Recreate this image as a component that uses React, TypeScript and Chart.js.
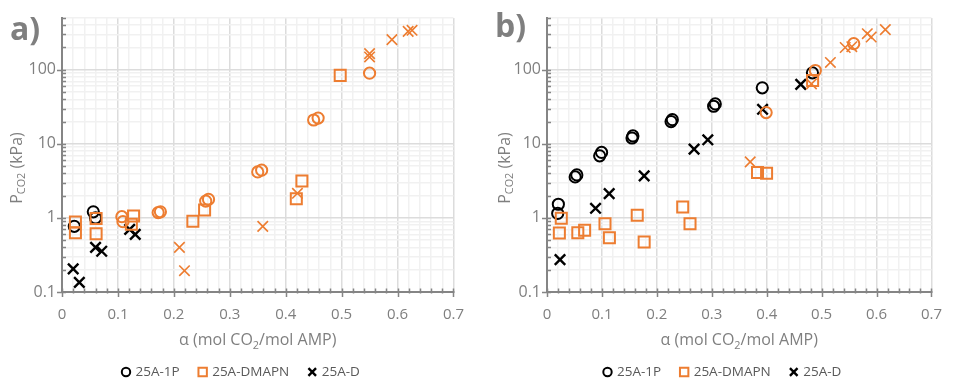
import React, { useEffect, useRef } from 'react';
import { Chart, registerables } from 'chart.js';

Chart.register(...registerables);

// ---------------- data: panel a ----------------
const a1PBlackX = [0.022, 0.056, 0.060];
const a1PBlackY = [0.77, 1.21, 1.0];
const a1POrangeX = [0.107, 0.109, 0.172, 0.176, 0.257, 0.262, 0.350, 0.357, 0.450, 0.458, 0.550];
const a1POrangeY = [1.04, 0.89, 1.18, 1.21, 1.69, 1.78, 4.18, 4.41, 21.0, 22.3, 90];
const aDmapnX = [0.024, 0.024, 0.061, 0.061, 0.128, 0.124, 0.234, 0.255, 0.419, 0.429, 0.4975];
const aDmapnY = [0.88, 0.63, 0.98, 0.61, 1.06, 0.82, 0.90, 1.28, 1.82, 3.16, 84];
const aDBlackX = [0.020, 0.031, 0.060, 0.071, 0.121, 0.131];
const aDBlackY = [0.205, 0.135, 0.40, 0.355, 0.70, 0.60];
const aDOrangeX = [0.210, 0.219, 0.359, 0.421, 0.550, 0.550, 0.590, 0.619, 0.626];
const aDOrangeY = [0.40, 0.194, 0.77, 2.15, 165, 149, 255, 330, 341];

// ---------------- data: panel b ----------------
const b1PBlackX = [0.0207, 0.0195, 0.0513, 0.0543, 0.0959, 0.0994, 0.1548, 0.1564, 0.2259, 0.2282, 0.3034, 0.3064, 0.392, 0.4833];
const b1PBlackY = [1.53, 1.15, 3.58, 3.81, 6.89, 7.66, 12.0, 12.8, 20.0, 21.2, 32.2, 34.6, 57.0, 91.0];
const b1POrangeX = [0.399, 0.4886, 0.5585];
const b1POrangeY = [26.4, 97.8, 225];
const bDmapnX = [0.026, 0.0225, 0.0561, 0.0685, 0.1056, 0.1136, 0.1643, 0.1769, 0.2471, 0.2604, 0.3833, 0.3998, 0.4836];
const bDmapnY = [0.99, 0.627, 0.63, 0.684, 0.835, 0.54, 1.09, 0.473, 1.40, 0.835, 4.10, 4.01, 71.6];
const bDBlackX = [0.0237, 0.0884, 0.1132, 0.1769, 0.2678, 0.2928, 0.3925, 0.462];
const bDBlackY = [0.274, 1.35, 2.13, 3.69, 8.49, 11.35, 29.3, 63.6];
const bDOrangeX = [0.370, 0.4815, 0.516, 0.543, 0.555, 0.5832, 0.5903, 0.616];
const bDOrangeY = [5.71, 64.6, 125.6, 200, 205, 307, 277, 348];

// ---------------- axes / labels ----------------
const seriesNames = ['25A-1P', '25A-DMAPN', '25A-D'];
const xMin = 0;
const xMax = 0.7;
const xMajorTicks = [0, 0.1, 0.2, 0.3, 0.4, 0.5, 0.6, 0.7];
const xTickLabels = ['0', '0.1', '0.2', '0.3', '0.4', '0.5', '0.6', '0.7'];
const xMinorStep = 0.02;
const yMin = 0.1;
const yMax = 500;
const yDecades = [0.1, 1, 10, 100];
const yTickLabels = ['0.1', '1', '10', '100'];

const ORANGE = '#ED7D31';
const BLACK = '#000000';
const GREY_TEXT = '#7f7f7f';
const LEGEND_TEXT = '#595959';
const AXIS = '#858585';
const GRID_MAJOR = '#dcdcdc';
const GRID_MINOR = '#f1f1f1';
const FONT = '"Open Sans", "Noto Sans", sans-serif';

type PanelCfg = {
  label: string;
  labelX: number;
  labelY: number;
  yTitleX: number;
  yAxisWidth: number;
  padRight: number;
  datasets: any[];
};

function series(label: string, xs: number[], ys: number[], style: string, color: string, width: number, radius: number) {
  return {
    label,
    data: xs.map((x, i) => ({ x, y: ys[i] })),
    pointStyle: style,
    pointRadius: radius,
    pointHoverRadius: radius,
    pointBorderWidth: width,
    pointHoverBorderWidth: width,
    pointBorderColor: color,
    pointBackgroundColor: 'rgba(0,0,0,0)',
    borderColor: color,
    backgroundColor: 'rgba(0,0,0,0)',
    showLine: false,
  };
}

const R_CIRCLE = 5.6;
const R_RECT = 7.8;
const R_CROSS = 7.4;

const panelA: PanelCfg = {
  label: 'a)',
  labelX: 10,
  labelY: 39.5,
  yTitleX: 21.7,
  yAxisWidth: 62,
  padRight: 19,
  datasets: [
    series(seriesNames[1], aDmapnX, aDmapnY, 'rect', ORANGE, 2, R_RECT),
    series(seriesNames[0], a1POrangeX, a1POrangeY, 'circle', ORANGE, 2, R_CIRCLE),
    series(seriesNames[2], aDOrangeX, aDOrangeY, 'crossRot', ORANGE, 1.6, R_CROSS),
    series(seriesNames[0], a1PBlackX, a1PBlackY, 'circle', BLACK, 2, R_CIRCLE),
    series(seriesNames[2], aDBlackX, aDBlackY, 'crossRot', BLACK, 2.4, R_CROSS),
  ],
};

const panelB: PanelCfg = {
  label: 'b)',
  labelX: 17,
  labelY: 36.7,
  yTitleX: 31.7,
  yAxisWidth: 69,
  padRight: 13,
  datasets: [
    series(seriesNames[1], bDmapnX, bDmapnY, 'rect', ORANGE, 2, R_RECT),
    series(seriesNames[0], b1POrangeX, b1POrangeY, 'circle', ORANGE, 2, R_CIRCLE),
    series(seriesNames[2], bDOrangeX, bDOrangeY, 'crossRot', ORANGE, 1.6, R_CROSS),
    series(seriesNames[0], b1PBlackX, b1PBlackY, 'circle', BLACK, 2, R_CIRCLE),
    series(seriesNames[2], bDBlackX, bDBlackY, 'crossRot', BLACK, 2.4, R_CROSS),
  ],
};

const isXMajor = (v: number) => Math.abs(v * 10 - Math.round(v * 10)) < 1e-6;
const isDecade = (v: number) => {
  const l = Math.log10(v);
  return Math.abs(l - Math.round(l)) < 1e-9;
};

function xTickValues(): number[] {
  const n = Math.round((xMax - xMin) / xMinorStep);
  const out: number[] = [];
  for (let i = 0; i <= n; i++) out.push(Math.round((xMin + i * xMinorStep) * 1000) / 1000);
  return out;
}

function yTickValues(): number[] {
  const out: number[] = [];
  for (const d of yDecades) {
    for (let k = 1; k <= 9; k++) {
      const v = Math.round(d * k * 1000) / 1000;
      if (v <= yMax + 1e-9) out.push(v);
    }
  }
  return out;
}

function xLabel(v: number): string {
  const i = xMajorTicks.findIndex((t) => Math.abs(t - v) < 1e-6);
  return i >= 0 ? xTickLabels[i] : '';
}
function yLabel(v: number): string {
  const i = yDecades.findIndex((t) => Math.abs(t - v) < 1e-9 * Math.max(1, t));
  return i >= 0 ? yTickLabels[i] : '';
}

// draw text with subscript parts, centered at cx, baseline y
function drawParts(ctx: CanvasRenderingContext2D, parts: [string, boolean][], cx: number, y: number, size: number) {
  const subSize = size * 0.68;
  const widths = parts.map(([t, sub]) => {
    ctx.font = `${sub ? subSize : size}px ${FONT}`;
    return ctx.measureText(t).width;
  });
  const total = widths.reduce((a, b) => a + b, 0);
  let x = cx - total / 2;
  ctx.textAlign = 'left';
  ctx.textBaseline = 'alphabetic';
  parts.forEach(([t, sub], i) => {
    ctx.font = `${sub ? subSize : size}px ${FONT}`;
    ctx.fillText(t, x, sub ? y + size * 0.22 : y);
    x += widths[i];
  });
}

function drawMarker(ctx: CanvasRenderingContext2D, style: string, x: number, y: number, color: string, lw: number, r: number) {
  ctx.save();
  ctx.strokeStyle = color;
  ctx.lineWidth = lw;
  ctx.beginPath();
  if (style === 'circle') {
    ctx.arc(x, y, r, 0, Math.PI * 2);
  } else if (style === 'rect') {
    ctx.rect(x - r, y - r, 2 * r, 2 * r);
  } else {
    ctx.moveTo(x - r, y - r);
    ctx.lineTo(x + r, y + r);
    ctx.moveTo(x + r, y - r);
    ctx.lineTo(x - r, y + r);
  }
  ctx.stroke();
  ctx.restore();
}

function buildChart(canvas: HTMLCanvasElement, p: PanelCfg): Chart {
  const ticksPlugin = {
    id: 'axisTicks',
    beforeDatasetsDraw(chart: any) {
      const { ctx, chartArea } = chart;
      const xs = chart.scales.x;
      const ys = chart.scales.y;
      ctx.save();
      ctx.strokeStyle = AXIS;
      ctx.lineWidth = 1.5;
      ctx.beginPath();
      for (const t of xs.ticks) {
        const px = Math.round(xs.getPixelForValue(t.value)) + 0.5;
        const major = isXMajor(t.value);
        ctx.moveTo(px, chartArea.bottom - 3.5);
        ctx.lineTo(px, chartArea.bottom + (major ? 5 : 1.5));
      }
      for (const t of ys.ticks) {
        const py = Math.round(ys.getPixelForValue(t.value)) + 0.5;
        const major = isDecade(t.value);
        ctx.moveTo(chartArea.left - (major ? 5 : 0), py);
        ctx.lineTo(chartArea.left + 4, py);
      }
      ctx.stroke();
      ctx.restore();
    },
  };

  const textPlugin = {
    id: 'panelTexts',
    afterDraw(chart: any) {
      const { ctx, chartArea } = chart;
      ctx.save();
      // panel letter
      ctx.fillStyle = GREY_TEXT;
      ctx.font = `bold 32px ${FONT}`;
      ctx.textAlign = 'left';
      ctx.textBaseline = 'alphabetic';
      ctx.fillText(p.label, p.labelX, p.labelY);
      // x title
      const cx = (chartArea.left + chartArea.right) / 2;
      drawParts(ctx, [['α (mol CO', false], ['2', true], ['/mol AMP)', false]], cx, 345, 16);
      // y title
      ctx.save();
      ctx.translate(p.yTitleX, 168);
      ctx.rotate(-Math.PI / 2);
      drawParts(ctx, [['P', false], ['CO2', true], [' (kPa)', false]], 0, 0, 16);
      ctx.restore();
      // legend
      const items = [
        { text: seriesNames[0], style: 'circle', color: BLACK, lw: 2, r: 4.2 },
        { text: seriesNames[1], style: 'rect', color: ORANGE, lw: 2, r: 4.2 },
        { text: seriesNames[2], style: 'cross', color: BLACK, lw: 2.4, r: 3.8 },
      ];
      const fontSize = 13.5;
      ctx.font = `${fontSize}px ${FONT}`;
      const markerHalf = 5;
      const textGap = 9.5;
      const itemGap = 23;
      const widths = items.map((it) => ctx.measureText(it.text).width);
      let total = 0;
      items.forEach((_, i) => {
        total += markerHalf + textGap + widths[i];
        if (i < items.length - 1) total += itemGap - markerHalf;
      });
      const ly = 372;
      let x = cx - 17.3 - total / 2 + markerHalf;
      items.forEach((it, i) => {
        drawMarker(ctx, it.style, x, ly, it.color, it.lw, it.r);
        ctx.fillStyle = LEGEND_TEXT;
        ctx.font = `${fontSize}px ${FONT}`;
        ctx.textAlign = 'left';
        ctx.textBaseline = 'middle';
        ctx.fillText(it.text, x + textGap, ly + 0.5);
        x += textGap + widths[i] + itemGap;
      });
      ctx.restore();
    },
  };

  const xt = xTickValues();
  const yt = yTickValues();

  return new Chart(canvas, {
    type: 'scatter',
    data: { datasets: p.datasets },
    options: {
      animation: false,
      responsive: false,
      devicePixelRatio: 1,
      layout: { padding: { top: 18, right: p.padRight, left: 0, bottom: 0 } },
      plugins: {
        legend: { display: false },
        tooltip: { enabled: false },
        title: { display: false },
      },
      scales: {
        x: {
          type: 'linear',
          min: xMin,
          max: xMax,
          afterBuildTicks: (s: any) => {
            s.ticks = xt.map((v) => ({ value: v }));
          },
          afterFit: (s: any) => {
            s.height = 87;
          },
          ticks: {
            autoSkip: false,
            maxRotation: 0,
            padding: 14,
            color: GREY_TEXT,
            font: { family: FONT, size: 15 },
            callback: (v: any) => xLabel(Number(v)),
          },
          grid: {
            drawTicks: false,
            lineWidth: 1.5,
            color: (c: any) => (c.tick && isXMajor(c.tick.value) ? GRID_MAJOR : GRID_MINOR),
          },
          border: { display: true, color: AXIS, width: 2 },
        },
        y: {
          type: 'logarithmic',
          min: yMin,
          max: yMax,
          afterBuildTicks: (s: any) => {
            s.ticks = yt.map((v) => ({ value: v }));
          },
          afterFit: (s: any) => {
            s.width = p.yAxisWidth;
          },
          ticks: {
            autoSkip: false,
            padding: 6,
            color: GREY_TEXT,
            font: { family: FONT, size: 16 },
            callback: (v: any) => yLabel(Number(v)),
          },
          grid: {
            drawTicks: false,
            lineWidth: 1.5,
            color: (c: any) => (c.tick && isDecade(c.tick.value) ? GRID_MAJOR : GRID_MINOR),
          },
          border: { display: true, color: AXIS, width: 2 },
        },
      },
    } as any,
    plugins: [ticksPlugin, textPlugin],
  });
}

function Panel({ cfg }: { cfg: PanelCfg }) {
  const ref = useRef<HTMLCanvasElement | null>(null);
  useEffect(() => {
    if (!ref.current) return;
    const chart = buildChart(ref.current, cfg);
    return () => chart.destroy();
  }, [cfg]);
  return (
    <div style={{ width: 478, height: 379, position: 'relative' }}>
      <canvas ref={ref} width={478} height={379} style={{ display: 'block', width: 478, height: 379 }} />
    </div>
  );
}

export default function App() {
  useEffect(() => {
    document.body.style.margin = '0';
    document.body.style.overflow = 'hidden';
    document.body.style.background = '#ffffff';
  }, []);
  return (
    <div style={{ display: 'flex', width: 956, height: 379, background: '#fff' }}>
      <Panel cfg={panelA} />
      <Panel cfg={panelB} />
    </div>
  );
}
